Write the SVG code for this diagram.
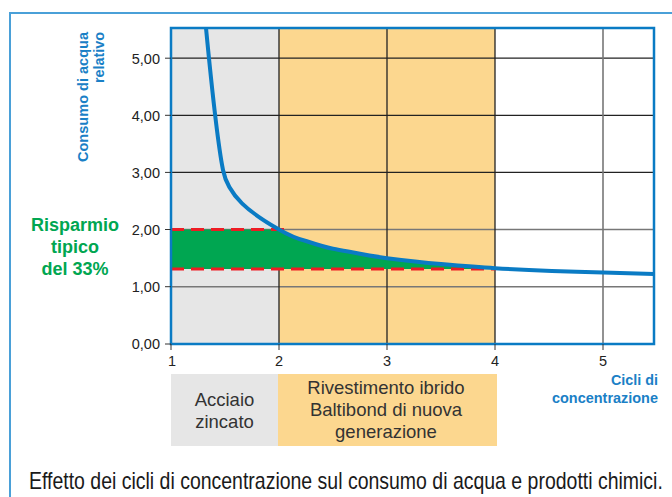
<svg xmlns="http://www.w3.org/2000/svg" width="672" height="497" viewBox="0 0 672 497">
<style>
.tick{font-family:"Liberation Sans",Arial,sans-serif;font-size:14.5px;fill:#222}
.blue{font-family:"Liberation Sans",Arial,sans-serif;font-weight:bold;fill:#1a80c6}
.yt{font-size:15px}
.xt{font-size:14px}
.green{font-family:"Liberation Sans",Arial,sans-serif;font-weight:bold;font-size:18px;fill:#00a651}
.box{font-family:"Liberation Sans",Arial,sans-serif;font-size:18.5px;fill:#333}
.gd{stroke:#222;stroke-width:1.3}
.gl{stroke:#777;stroke-width:1.6}
.tk{stroke:#333;stroke-width:1}
.dash{stroke:#ed1c24;stroke-width:3;stroke-dasharray:13 7;fill:none}
</style>
<rect width="672" height="497" fill="#fff"/>
<g id="frame">
<path d="M10,497 V13 H672" fill="none" stroke="#4aa0d8" stroke-width="2"/>
</g>
<g id="bands">
<rect x="171" y="28" width="108" height="316" fill="#e6e6e6"/>
<rect x="279" y="28" width="216" height="316" fill="#fcd78f"/>
</g>
<g id="grid">
<line class="gd" x1="171" y1="58.2" x2="654" y2="58.2"/>
<line class="gd" x1="171" y1="115.3" x2="654" y2="115.3"/>
<line class="gd" x1="171" y1="172.4" x2="654" y2="172.4"/>
<line class="gl" x1="171" y1="229.5" x2="654" y2="229.5"/>
<line class="gl" x1="171" y1="286.7" x2="654" y2="286.7"/>
<line class="gd" x1="279" y1="28" x2="279" y2="344"/>
<line class="gd" x1="387" y1="28" x2="387" y2="344"/>
<line class="gd" x1="495" y1="28" x2="495" y2="344"/>
<line class="gl" x1="603" y1="28" x2="603" y2="344"/>
</g>
<g id="savings">
<path d="M171,229.5 H279 C290,236 298,239 306,241 C315,244 324,247 333,248.7 C351,252 369,256 387,258.2 C405,260.5 423,262.5 441,264 C459,265.5 477,267 495,268.5 V269 H171 Z" fill="#00a651"/>
<line class="dash" x1="171" y1="229.5" x2="284" y2="229.5"/>
<line class="dash" x1="171" y1="269" x2="496" y2="269"/>
</g>
<g id="connectors">
<path d="M206,28 C211,80 217,140 223,170 C228,196 250,213 279,229.5 C290,236 298,239 306,241 C315,244 324,247 333,248.7 C351,252 369,256 387,258.2 C405,260.5 423,262.5 441,264 C459,265.5 477,267 495,268.2 C531,270.2 567,271.5 603,272.6 C620,273.1 637,273.6 654,274.1" fill="none" stroke="#0a7bc4" stroke-width="4"/>
</g>
<g id="plot-border">
<rect x="171" y="28" width="483" height="316" fill="none" stroke="#0a7bc4" stroke-width="2.5"/>
</g>
<g id="y-axis">
<line class="tk" x1="165" y1="58.2" x2="171" y2="58.2"/>
<line class="tk" x1="165" y1="115.3" x2="171" y2="115.3"/>
<line class="tk" x1="165" y1="172.4" x2="171" y2="172.4"/>
<line class="tk" x1="165" y1="229.5" x2="171" y2="229.5"/>
<line class="tk" x1="165" y1="286.7" x2="171" y2="286.7"/>
<line class="tk" x1="165" y1="344" x2="171" y2="344"/>
<text class="tick" x="160" y="63.5" text-anchor="end">5,00</text>
<text class="tick" x="160" y="120.5" text-anchor="end">4,00</text>
<text class="tick" x="160" y="177.5" text-anchor="end">3,00</text>
<text class="tick" x="160" y="234.5" text-anchor="end">2,00</text>
<text class="tick" x="160" y="291.8" text-anchor="end">1,00</text>
<text class="tick" x="160" y="349" text-anchor="end">0,00</text>
<text class="blue yt" transform="translate(88,32) rotate(-90)" text-anchor="end" textLength="130" lengthAdjust="spacingAndGlyphs">Consumo di acqua</text>
<text class="blue yt" transform="translate(104,32) rotate(-90)" text-anchor="end" textLength="51" lengthAdjust="spacingAndGlyphs">relativo</text>
</g>
<g id="x-axis">
<line class="tk" x1="171" y1="344" x2="171" y2="350"/>
<line class="tk" x1="279" y1="344" x2="279" y2="350"/>
<line class="tk" x1="387" y1="344" x2="387" y2="350"/>
<line class="tk" x1="495" y1="344" x2="495" y2="350"/>
<line class="tk" x1="603" y1="344" x2="603" y2="350"/>
<text class="tick" x="172" y="366" text-anchor="middle">1</text>
<text class="tick" x="279" y="366" text-anchor="middle">2</text>
<text class="tick" x="387" y="366" text-anchor="middle">3</text>
<text class="tick" x="495" y="366" text-anchor="middle">4</text>
<text class="tick" x="603" y="366" text-anchor="middle">5</text>
<text class="blue xt" x="611" y="385" textLength="47" lengthAdjust="spacingAndGlyphs">Cicli di</text>
<text class="blue xt" x="552" y="403" textLength="106" lengthAdjust="spacingAndGlyphs">concentrazione</text>
</g>
<g id="savings-label">
<text class="green" text-anchor="middle" x="75" y="231">Risparmio</text>
<text class="green" text-anchor="middle" x="75" y="253">tipico</text>
<text class="green" text-anchor="middle" x="75" y="275">del 33%</text>
</g>
<g id="box-zincato">
<rect x="171" y="374" width="107" height="72" fill="#e6e6e6"/>
<text class="box" text-anchor="middle" x="224.5" y="406">Acciaio</text>
<text class="box" text-anchor="middle" x="224.5" y="428">zincato</text>
</g>
<g id="box-baltibond">
<rect x="278" y="374" width="219" height="72" fill="#fcd78f"/>
<text class="box" text-anchor="middle" x="386" y="394">Rivestimento ibrido</text>
<text class="box" text-anchor="middle" x="386" y="416">Baltibond di nuova</text>
<text class="box" text-anchor="middle" x="386" y="438">generazione</text>
</g>
<g id="caption">
<text transform="translate(29,489) scale(0.76,1)" x="0" y="0" font-family="'Liberation Sans',Arial,sans-serif" font-size="23" fill="#1a1a1a" textLength="834" lengthAdjust="spacingAndGlyphs">Effetto dei cicli di concentrazione sul consumo di acqua e prodotti chimici.</text>
</g>
</svg>
